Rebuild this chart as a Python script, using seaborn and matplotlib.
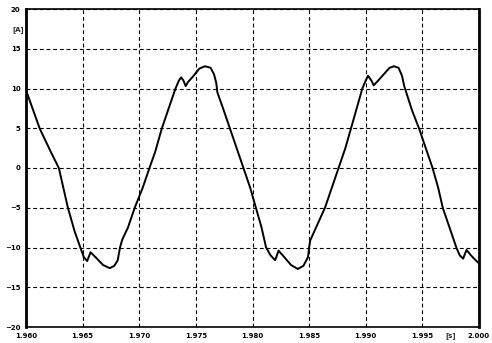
import matplotlib
matplotlib.use("Agg")
import matplotlib.pyplot as plt
import matplotlib.transforms as mtransforms
import seaborn as sns
import pandas as pd

# Current waveform
t_s = [1.9600, 1.9612, 1.9622, 1.9629, 1.9633, 1.9637, 1.9643, 1.9648, 1.9651, 1.9654,
       1.9657, 1.9662, 1.9668, 1.9674, 1.9678, 1.9681, 1.9683, 1.9685, 1.9690, 1.9696,
       1.9703, 1.9709, 1.9714, 1.9720, 1.9726, 1.9732, 1.9735, 1.9737, 1.9739, 1.9741,
       1.9743, 1.9748, 1.9753, 1.9758, 1.9763, 1.9766, 1.9768, 1.9769, 1.9774, 1.9780,
       1.9786, 1.9792, 1.9798, 1.9803, 1.9808, 1.9812, 1.9816, 1.9820, 1.9823, 1.9828,
       1.9834, 1.9840, 1.9845, 1.9849, 1.9850, 1.9851, 1.9857, 1.9864, 1.9870, 1.9876,
       1.9882, 1.9887, 1.9892, 1.9897, 1.9900, 1.9902, 1.9905, 1.9907, 1.9911, 1.9916,
       1.9921, 1.9925, 1.9929, 1.9932, 1.9934, 1.9936, 1.9941, 1.9947, 1.9953, 1.9959,
       1.9964, 1.9968, 1.9974, 1.9980, 1.9983, 1.9986, 1.9989, 1.9993, 1.9997, 2.0000]
i_a = [9.8, 5.0, 2.0, 0.0, -2.5, -5.0, -8.0, -10.0, -11.2, -11.7,
       -10.6, -11.3, -12.2, -12.6, -12.3, -11.6, -10.0, -9.0, -7.5, -5.0,
       -2.5, 0.0, 2.0, 5.0, 7.5, 10.0, 11.0, 11.4, 11.0, 10.3,
       10.8, 11.6, 12.5, 12.8, 12.6, 11.8, 10.7, 9.5, 7.5, 5.0,
       2.5, 0.0, -2.5, -5.0, -7.5, -10.0, -11.0, -11.6, -10.4, -11.2,
       -12.2, -12.7, -12.3, -11.2, -10.0, -9.1, -7.2, -5.0, -2.5, 0.0,
       2.5, 5.0, 7.5, 10.0, 11.0, 11.6, 11.0, 10.4, 11.0, 11.8,
       12.6, 12.8, 12.6, 11.6, 10.3, 9.4, 7.2, 5.0, 2.5, 0.0,
       -2.5, -5.0, -7.5, -10.0, -11.0, -11.4, -10.3, -11.0, -11.6, -12.0]

x_ticks = [1.960, 1.965, 1.970, 1.975, 1.980, 1.985, 1.990, 1.995, 2.000]
x_labels = ["1.960", "1.965", "1.970", "1.975", "1.980", "1.985", "1.990", "1.995", "2.000"]
y_ticks = [-20, -15, -10, -5, 0, 5, 10, 15, 20]

df = pd.DataFrame({"t": t_s, "i": i_a})

sns.set_style("white")
plt.rcParams["font.family"] = ["DejaVu Sans"]

fig = plt.figure(figsize=(4.92, 3.43), dpi=100)
ax = fig.add_axes([26 / 492, 1 - 327 / 343, 453 / 492, 318 / 343])

sns.lineplot(data=df, x="t", y="i", sort=False, estimator=None,
             color="black", linewidth=1.4, ax=ax)

ax.set_xlim(1.960, 2.000)
ax.set_ylim(-20, 20)
ax.set_xticks(x_ticks)
ax.set_xticklabels(x_labels)
ax.set_yticks(y_ticks)
ax.set_xlabel("")
ax.set_ylabel("")
ax.tick_params(axis="both", labelsize=5, length=2.5, width=0.8, pad=1.5,
               direction="out", colors="black")
for lab in ax.get_xticklabels() + ax.get_yticklabels():
    lab.set_fontweight("bold")

ax.grid(True, color="black", linestyle=(0, (3.5, 2.5)), linewidth=0.8)

for side, lw in [("left", 2.0), ("right", 2.0), ("top", 1.2), ("bottom", 1.2)]:
    ax.spines[side].set_visible(True)
    ax.spines[side].set_color("black")
    ax.spines[side].set_linewidth(lw)

# unit labels as in the original scan
ax.text(-0.004, 0.935, "[A]", transform=ax.transAxes, fontsize=5,
        fontweight="bold", ha="right", va="center")
s_trans = mtransforms.offset_copy(ax.get_xaxis_transform(), fig=fig,
                                  y=-4, units="points")
ax.text(1.9975, 0, "[s]", transform=s_trans, fontsize=5,
        fontweight="bold", ha="center", va="top")

fig.savefig("out.png", dpi=100, facecolor="white")
